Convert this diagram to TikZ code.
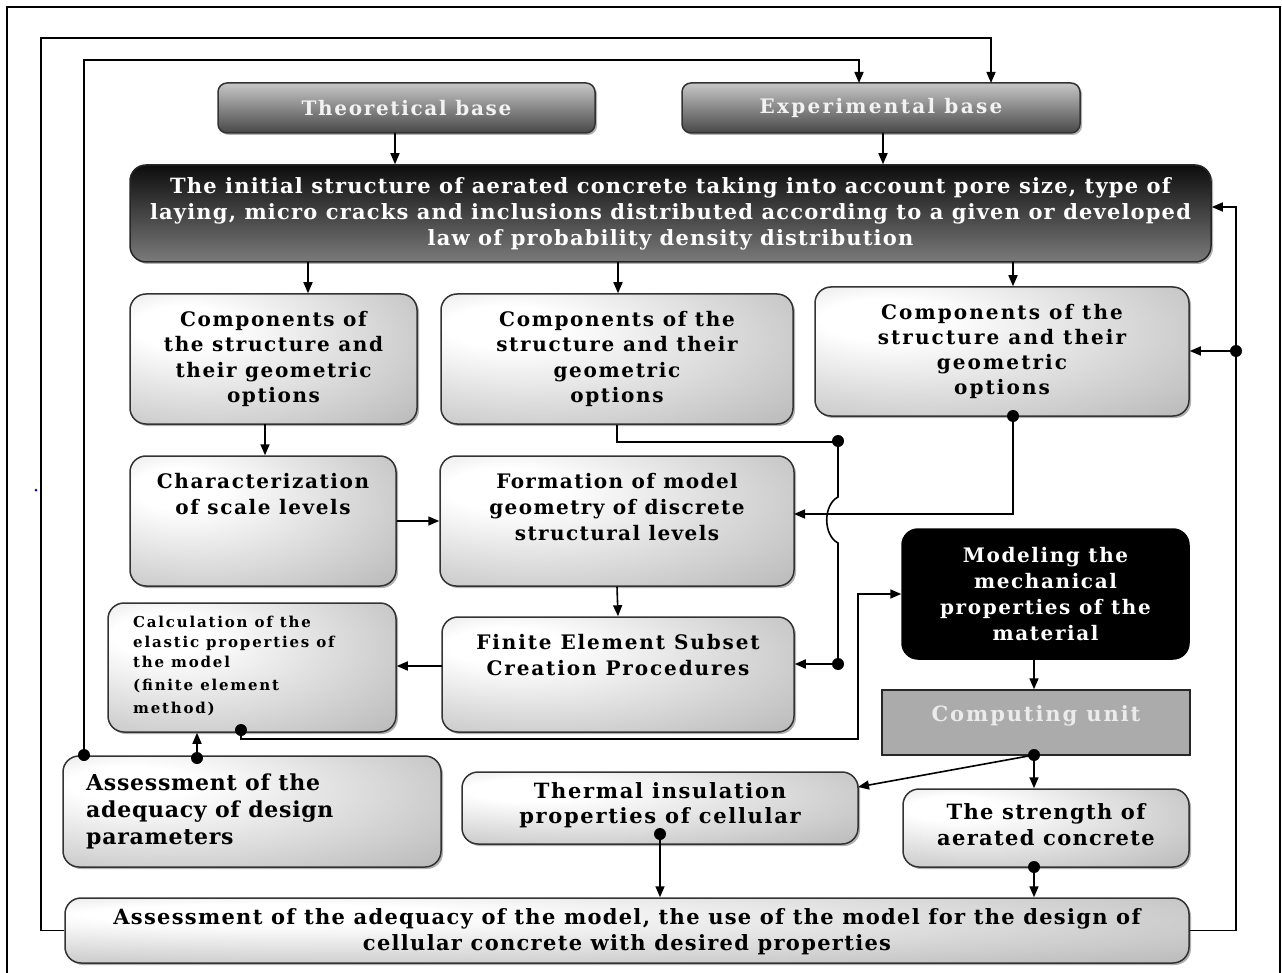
\documentclass[tikz,border=0pt]{standalone}
\usepackage{fontspec}
\setmainfont{DejaVu Serif}
\usetikzlibrary{arrows.meta,shadows}
\pgfdeclareradialshading{lightbox}{\pgfpoint{-18bp}{14bp}}{color(0bp)=(white); color(8bp)=(white); color(45bp)=(gray!55); color(75bp)=(gray!62)}
\newcommand\fsz[3]{\fontsize{#1}{#2}\selectfont\bfseries\addfontfeatures{LetterSpace=#3}}
\begin{document}
\begin{tikzpicture}[x=1pt,y=-1pt,
  shad/.style={drop shadow={shadow xshift=2pt,shadow yshift=-2pt,opacity=0.3,fill=black}},
  base/.style={draw=black!80,line width=1.5pt,rounded corners=9pt,top color=black!22,bottom color=black!72,inner sep=0pt,text=white!95!black,shad},
  ibox/.style={draw=black!85,line width=1.5pt,rounded corners=16pt,top color=black!95,bottom color=black!52,inner sep=0pt,text=white,align=center,shad},
  lbox/.style={draw=black!80,line width=1.5pt,rounded corners=16pt,shade,shading=lightbox,inner sep=0pt,shad},
  mbox/.style={draw=black,line width=1.5pt,rounded corners=16pt,fill=black,inner sep=0pt,text=white,align=center},
  cbox/.style={draw=black!85,line width=1.5pt,fill=black!33,inner sep=0pt},
  txt/.style={inner sep=0pt,align=center,text=black},
  conn/.style={line width=1.6pt,draw=black},
  arr/.style={conn,-{Triangle[length=11pt,width=9pt]}},
  dot/.style={fill=black},
]
\useasboundingbox (0,0) rectangle (1282,973);
% outer frame
\draw[line width=2pt] (7,990) -- (7,7) -- (1280,7) -- (1280,990);
\fill[blue] (36,490) circle (1.5pt);

% boxes
\node[base,minimum width=377pt,minimum height=50pt,font=\fsz{20}{24}{8.4}] (theo) at (406.5,108) {Theoretical base};
\node[base,minimum width=398pt,minimum height=50pt,font=\fsz{20}{24}{11.5}] (exp) at (881,108) {Experimental base};
\node[ibox,minimum width=1081pt,minimum height=97pt,font=\fsz{21}{26}{5.6}] (init) at (670.5,213.5) {The initial structure of aerated concrete taking into account pore size, type of\\laying, micro cracks and inclusions distributed according to a given or developed\\law of probability density distribution};

\node[lbox,minimum width=287pt,minimum height=130pt] (compL) at (273.5,359) {};
\node[txt,font=\fsz{20}{25.5}{8}] (compLT) at (compL) {Components of\\the structure and\\their geometric\\options};
\node[lbox,minimum width=352pt,minimum height=130pt] (compM) at (617,359) {};
\node[txt,font=\fsz{20}{25.5}{8.3}] (compMT) at (compM) {Components of the\\structure and their\\geometric\\options};
\node[lbox,minimum width=374pt,minimum height=129pt] (compR) at (1002,351.5) {};
\node[txt,font=\fsz{20}{25}{10.5}] (compRT) at (compR) {Components of the\\structure and their\\geometric\\options};

\node[lbox,minimum width=266pt,minimum height=130pt] (char) at (263,521) {};
\node[txt,font=\fsz{20}{26}{8},anchor=north] (charT) at (263,473) {Characterization\\of scale levels};
\node[lbox,minimum width=354pt,minimum height=130pt] (form) at (617,521) {};
\node[txt,font=\fsz{20}{26}{7},anchor=north] (formT) at (617,473) {Formation of model\\geometry of discrete\\structural levels};

\node[mbox,minimum width=287pt,minimum height=130pt,font=\fsz{20}{26}{8}] (model) at (1045.5,594) {Modeling the\\mechanical\\properties of the\\material};

\node[lbox,minimum width=352pt,minimum height=115pt] (fe) at (618,674.5) {};
\node[txt,font=\fsz{20}{26}{9.5},anchor=north] (feT) at (618,634) {Finite Element Subset\\Creation Procedures};

\node[lbox,minimum width=288pt,minimum height=129pt] (calc) at (252,667.5) {};
\node[txt,font=\fsz{15}{20}{12},align=left,anchor=north west] (calcT) at (133,616) {Calculation of the\\elastic properties of\\the model\\[3pt](finite element\\[3pt]method)};

\node[cbox,minimum width=308pt,minimum height=65pt] (comp) at (1036,722.5) {};
\node[txt,font=\fsz{21}{25}{9},text=white!92!black,anchor=north] (compT) at (1036,705) {Computing unit};

\node[lbox,minimum width=378pt,minimum height=111pt] (adp) at (252,811.5) {};
\node[txt,font=\fsz{22}{27}{3.3},align=left,anchor=north west] (adpT) at (86,774) {Assessment of the\\adequacy of design\\parameters};

\node[lbox,minimum width=396pt,minimum height=72pt] (therm) at (660,808) {};
\node[txt,font=\fsz{21}{25}{8},anchor=north] (thermT) at (660,782) {Thermal insulation\\properties of cellular};

\node[lbox,minimum width=286pt,minimum height=78pt] (str) at (1046,828) {};
\node[txt,font=\fsz{21}{26}{6.3},anchor=north] (strT) at (1046,803) {The strength of\\aerated concrete};

\node[lbox,minimum width=1124pt,minimum height=65pt] (bot) at (627,930.5) {};
\node[txt,font=\fsz{21}{26}{6.2}] (botT) at (627,932) {Assessment of the adequacy of the model, the use of the model for the design of\\cellular concrete with desired properties};

% connector points
\coordinate (pTheo) at (395,133);
\coordinate (pExp) at (883,133);
\coordinate (pI1) at (308,262);
\coordinate (pI2) at (618,262);
\coordinate (pI3) at (1013,262);
\coordinate (pCL) at (265,424);
\coordinate (pFEw) at (442,666);
\coordinate (pMod) at (1034,659);
\coordinate (dComp) at (1034,755);
\coordinate (pThE) at (858,787);
\coordinate (dTh) at (660,834);
\coordinate (dStr) at (1034,867);
\coordinate (dJ1) at (838,441);
\coordinate (dJ2) at (838,664);
\coordinate (dCR) at (1013,416);
\coordinate (dCalc) at (241,730);
\coordinate (dAd1) at (197,758);
\coordinate (dAd2) at (84,755);
\coordinate (pExpA) at (859,83);
\coordinate (pExpB) at (991,83);
\coordinate (dR) at (1236,351);

% connectors
\draw[arr] (pTheo) -- (pTheo |- init.north);
\draw[arr] (pExp) -- (pExp |- init.north);
\draw[arr] (pI1) -- (pI1 |- compL.north);
\draw[arr] (pI2) -- (pI2 |- compM.north);
\draw[arr] (pI3) -- (pI3 |- compR.north);
\draw[arr] (pCL) -- (pCL |- char.north);
\draw[arr] (char.east) -- (form.west);
\draw[arr] (form.south) -- (fe.north);
\draw[arr] (pFEw) -- (pFEw -| calc.east);
\draw[arr] (pMod) -- (pMod |- comp.north);
\draw[arr] (dComp) -- (dComp |- str.north);
\draw[arr] (dComp) -- (pThE);
\draw[arr] (dTh) -- (dTh |- bot.north);
\draw[arr] (dStr) -- (dStr |- bot.north);
% middle components -> FE with hop
\draw[conn] (compM.south) -- ++(0,17) -| (dJ1);
\draw[arr] (dJ1) -- (838,497) .. controls (823,505) and (823,535) .. (838,543) -- (dJ2) -- (dJ2 -| fe.east);
% right components -> formation
\draw[arr] (dCR) -- (1013,514) -- (794,514);
% calc -> modeling
\draw[arr] (dCalc) -- (241,739) -- (858,739) -- (858,594) -- (model.west);
% assessment -> calc
\draw[arr] (dAd1) -- (dAd1 |- calc.south);
% feedback lines
\draw[arr] (dAd2) -- (84,60) -- (859,60) -- (pExpA);
\draw[arr] (bot.west) -- (41,930.5) -- (41,38) -- (991,38) -- (pExpB);
\draw[arr] (bot.east) -- (1236,930.5) -- (1236,207) -- (init.east |- 0,207);
\draw[arr] (dR) -- (dR -| compR.east);

% dots
\foreach \d in {dComp,dTh,dStr,dJ1,dJ2,dCR,dCalc,dAd1,dAd2,dR}
  \fill[dot] (\d) circle (6pt);
\end{tikzpicture}
\end{document}
